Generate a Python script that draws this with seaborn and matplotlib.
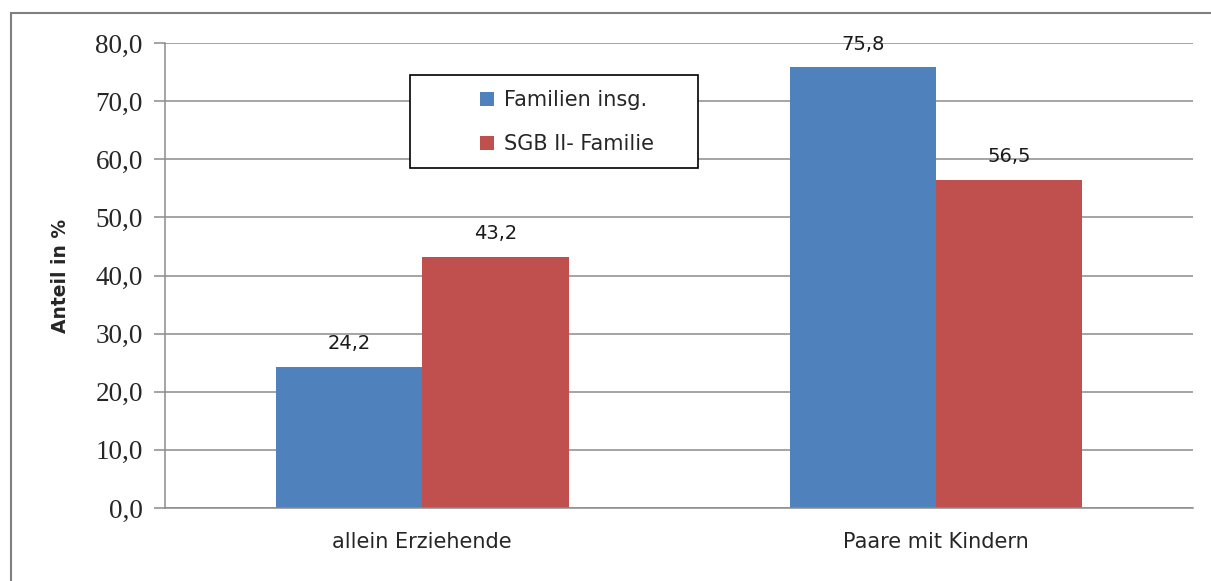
import pandas as pd
import matplotlib.pyplot as plt
import seaborn as sns
from matplotlib.patches import Rectangle

categories = ["allein Erziehende", "Paare mit Kindern"]
series = ["Familien insg.", "SGB II- Familie"]
familien_insg = [24.2, 75.8]
sgb_familie = [43.2, 56.5]
yticks = [0, 10, 20, 30, 40, 50, 60, 70, 80]

df = pd.DataFrame({
    "Kategorie": categories * 2,
    "Serie": [series[0]] * 2 + [series[1]] * 2,
    "Wert": familien_insg + sgb_familie,
})

sns.set_style("white")
fig = plt.figure(figsize=(12.11, 5.81), dpi=100)
ax = fig.add_axes([0.1363, 0.1256, 0.8488, 0.8004])

sns.barplot(data=df, x="Kategorie", y="Wert", hue="Serie", hue_order=series,
            palette=["#4F81BD", "#C0504D"], width=0.57, saturation=1,
            errorbar=None, linewidth=0, ax=ax)

# value labels
for cont in ax.containers:
    ax.bar_label(cont, labels=[f"{v:.1f}".replace(".", ",") for v in cont.datavalues],
                 padding=10, fontsize=14, family="DejaVu Sans", color="#1a1a1a")

ax.set_ylim(0, 80)
ax.set_xlim(-0.5, 1.5)
ax.set_yticks(yticks)
ax.set_yticklabels([f"{t:.1f}".replace(".", ",") for t in yticks],
                   family="Liberation Serif", fontsize=19.5)
ax.yaxis.grid(True, color="#8c8c8c", linewidth=1.1)
ax.set_axisbelow(True)

# category boundary ticks
ax.set_xticks([-0.5, 0.5, 1.5], minor=True)
ax.tick_params(axis="x", which="minor", length=8, color="#8c8c8c", width=1.1)
ax.tick_params(axis="x", which="major", length=0, pad=17, labelsize=15)
ax.tick_params(axis="y", length=8, color="#8c8c8c", width=1.1, pad=8, left=True)
for lab in ax.get_xticklabels():
    lab.set_family("DejaVu Sans")

for side in ["top", "right"]:
    ax.spines[side].set_visible(False)
for side in ["left", "bottom"]:
    ax.spines[side].set_color("#8c8c8c")
    ax.spines[side].set_linewidth(1.1)

ax.set_xlabel("")
ax.set_ylabel("Anteil in %", fontsize=13.5, fontweight="bold", labelpad=18)

# legend box drawn separately, entries placed inside it
ax.add_patch(Rectangle((0.238, 0.731), 0.280, 0.2, transform=ax.transAxes,
                       facecolor="white", edgecolor="black", linewidth=1.2,
                       zorder=4, clip_on=False))
leg = ax.legend(loc="upper left", bbox_to_anchor=(0.306, 0.898), frameon=False,
                fontsize=15, handlelength=0.7, handleheight=0.7,
                handletextpad=0.45, labelspacing=1.15, borderpad=0,
                borderaxespad=0)
leg.set_zorder(5)

# outer frame of the chart area
fig.patches.append(Rectangle((11 / 1211, -0.1), 2, (581 - 13) / 581 + 0.1,
                             transform=fig.transFigure, fill=False,
                             edgecolor="#7f7f7f", linewidth=1.5))

fig.savefig("out.png", dpi=100)
